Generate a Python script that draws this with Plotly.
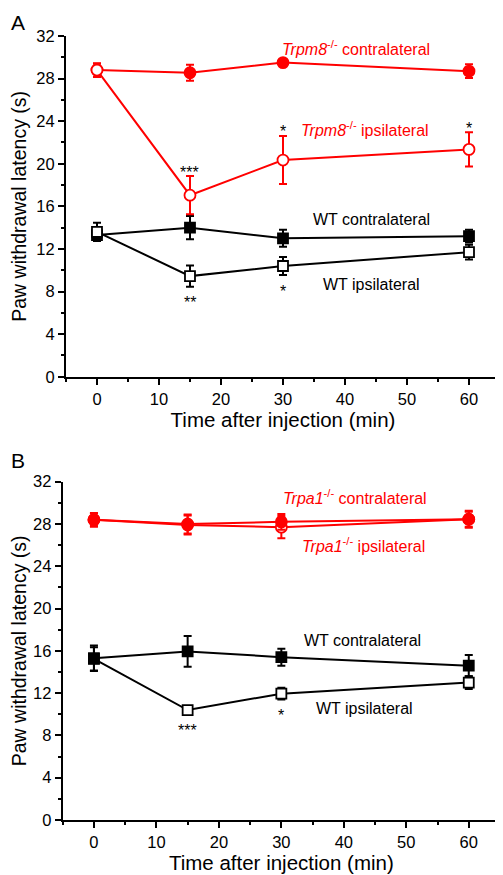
import plotly.graph_objects as go

time = [0, 15, 30, 60]

# Panel A
a_trpm8_contra = [28.8, 28.55, 29.5, 28.7]
a_trpm8_contra_err = [0.65, 0.75, 0.35, 0.65]
a_trpm8_ipsi = [28.8, 17.05, 20.35, 21.35]
a_trpm8_ipsi_err = [0.6, 1.8, 2.25, 1.6]
a_wt_contra = [13.3, 14.0, 13.0, 13.2]
a_wt_contra_err = [0.5, 1.1, 0.8, 0.6]
a_wt_ipsi = [13.6, 9.45, 10.4, 11.7]
a_wt_ipsi_err = [0.85, 1.0, 0.85, 0.7]

# Panel B
b_trpa1_contra = [28.4, 28.0, 28.2, 28.45]
b_trpa1_contra_err = [0.65, 0.9, 0.75, 0.8]
b_trpa1_ipsi = [28.4, 27.9, 27.7, 28.45]
b_trpa1_ipsi_err = [0.6, 0.9, 1.05, 0.7]
b_wt_contra = [15.3, 15.95, 15.4, 14.6]
b_wt_contra_err = [1.2, 1.45, 0.8, 1.0]
b_wt_ipsi = [15.25, 10.4, 11.95, 13.0]
b_wt_ipsi_err = [1.1, 0.35, 0.55, 0.6]

x_ticks = [0, 10, 20, 30, 40, 50, 60]
y_ticks = [0, 4, 8, 12, 16, 20, 24, 28, 32]

RED = "#ff0000"
BLACK = "#000000"
FONT = "Liberation Sans, Arial, sans-serif"

fig = go.Figure()


def add(y, err, color, symbol, filled, size, xa, ya):
    fig.add_trace(go.Scatter(
        x=time, y=y, mode="lines+markers",
        line=dict(color=color, width=2),
        marker=dict(symbol=symbol, size=size,
                    color=color if filled else "white",
                    line=dict(color=color, width=1.8)),
        error_y=dict(type="data", array=err, visible=True, color=color,
                     thickness=2, width=4),
        xaxis=xa, yaxis=ya, showlegend=False, cliponaxis=False))


# Panel A
add(a_wt_contra, a_wt_contra_err, BLACK, "square", True, 10, "x", "y")
add(a_wt_ipsi, a_wt_ipsi_err, BLACK, "square", False, 10, "x", "y")
add(a_trpm8_contra, a_trpm8_contra_err, RED, "circle", True, 11, "x", "y")
add(a_trpm8_ipsi, a_trpm8_ipsi_err, RED, "circle", False, 11, "x", "y")

# Panel B
add(b_wt_ipsi, b_wt_ipsi_err, BLACK, "square", False, 10, "x2", "y2")
add(b_wt_contra, b_wt_contra_err, BLACK, "square", True, 10, "x2", "y2")
add(b_trpa1_ipsi, b_trpa1_ipsi_err, RED, "circle", False, 11, "x2", "y2")
add(b_trpa1_contra, b_trpa1_contra_err, RED, "circle", True, 11, "x2", "y2")

axis_common = dict(
    showline=True, linewidth=2, linecolor=BLACK, ticks="outside",
    ticklen=6, tickwidth=1.5, tickcolor=BLACK, showgrid=False,
    zeroline=False, automargin=False,
    tickfont=dict(size=16.5, color=BLACK, family=FONT),
)

xcommon = dict(axis_common, range=[-5, 65], tickvals=x_ticks,
               minor=dict(ticks="outside", dtick=5, tick0=0, ticklen=3,
                          tickwidth=1.5, tickcolor=BLACK, showgrid=False),
               title=dict(text="Time after injection (min)",
                          font=dict(size=20.5, color=BLACK, family=FONT),
                          standoff=0))
ycommon = dict(axis_common, range=[0, 32], tickvals=y_ticks,
               minor=dict(ticks="outside", dtick=2, tick0=0, ticklen=3,
                          tickwidth=1.5, tickcolor=BLACK, showgrid=False),
               title=dict(text="Paw withdrawal latency (s)",
                          font=dict(size=19.5, color=BLACK, family=FONT),
                          standoff=17))

# the page body adds an 8px margin, so the figure is 8px smaller
fig.update_layout(
    width=495, height=867,
    margin=dict(l=54, r=3, t=28, b=55),
    paper_bgcolor="white", plot_bgcolor="white",
    font=dict(family=FONT, color=BLACK),
    xaxis=dict(xcommon, domain=[0.0091, 1.0], anchor="y"),
    yaxis=dict(ycommon, domain=[0.5654, 1.0], anchor="x"),
    xaxis2=dict(xcommon, domain=[0.0016, 1.0], anchor="y2"),
    yaxis2=dict(ycommon, domain=[0.0, 0.4315], anchor="x2"),
)

ann = []


def txt(x, y, text, color, xr, yr, size=16):
    ann.append(dict(x=x, y=y, xref=xr, yref=yr, text=text, showarrow=False,
                    font=dict(size=size, color=color, family=FONT),
                    xanchor="center", yanchor="middle"))


# Panel A labels
txt(41.8, 30.9, "<i>Trpm8</i><sup>-/-</sup> contralateral", RED, "x", "y")
txt(43.2, 23.3, "<i>Trpm8</i><sup>-/-</sup> ipsilateral", RED, "x", "y")
txt(44.2, 14.8, "WT contralateral", BLACK, "x", "y")
txt(44.3, 8.7, "WT ipsilateral", BLACK, "x", "y")
txt(15, 19.2, "***", BLACK, "x", "y")
txt(30, 23.0, "*", BLACK, "x", "y")
txt(60, 23.3, "*", BLACK, "x", "y")
txt(15, 7.0, "**", BLACK, "x", "y")
txt(30, 8.0, "*", BLACK, "x", "y")

# Panel B labels
txt(41.8, 30.6, "<i>Trpa1</i><sup>-/-</sup> contralateral", RED, "x2", "y2")
txt(43.1, 26.0, "<i>Trpa1</i><sup>-/-</sup> ipsilateral", RED, "x2", "y2")
txt(43.0, 17.0, "WT contralateral", BLACK, "x2", "y2")
txt(43.3, 10.5, "WT ipsilateral", BLACK, "x2", "y2")
txt(15, 8.5, "***", BLACK, "x2", "y2")
txt(30, 9.9, "*", BLACK, "x2", "y2")

# Panel letters
ann.append(dict(x=-0.121, y=1.034, xref="paper", yref="paper", text="A",
                showarrow=False, xanchor="left", yanchor="top",
                font=dict(size=21, color=BLACK, family=FONT)))
ann.append(dict(x=-0.121, y=0.459, xref="paper", yref="paper", text="B",
                showarrow=False, xanchor="left", yanchor="middle",
                font=dict(size=21, color=BLACK, family=FONT)))

fig.update_layout(annotations=ann)

fig.write_html("out.html")
